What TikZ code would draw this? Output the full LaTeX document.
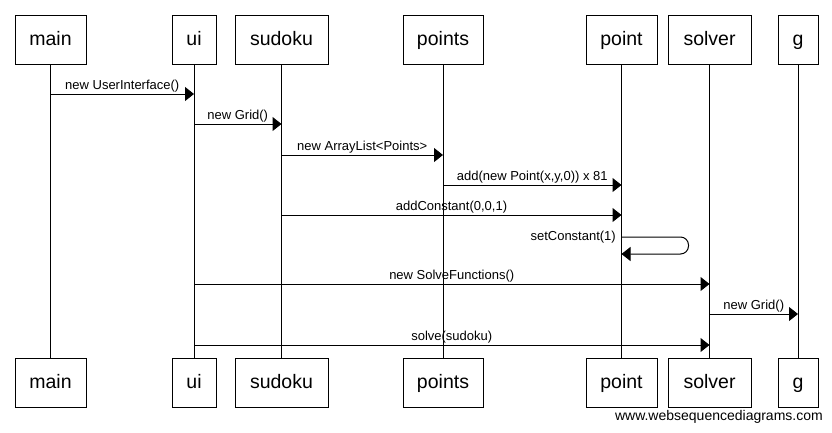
\documentclass[tikz,border=0pt]{standalone}
\usepackage{fontspec}
\setmainfont{Liberation Sans}
\usetikzlibrary{arrows.meta}

\tikzset{
  actor/.style={draw, line width=1pt, minimum height=49pt, inner sep=0pt,
    text height=15pt, text depth=4pt, font=\fontsize{19.5}{22}\selectfont},
  lifeline/.style={line width=1pt},
  msg/.style={line width=1pt, -{Triangle[length=9pt,width=14pt]}},
  msglabel/.style={font=\fontsize{13}{15}\selectfont, inner sep=1.5pt}
}

\begin{document}
\begin{tikzpicture}[x=1pt,y=-1pt]
  \useasboundingbox (0,0) rectangle (832,432);
  % participants, top row
  \node[actor,minimum width=71pt] (main) at (50.5,39.5) {main};
  \node[actor,minimum width=44pt] (ui) at (194,39.5) {ui};
  \node[actor,minimum width=93pt] (sudoku) at (281.5,39.5) {sudoku};
  \node[actor,minimum width=80pt] (points) at (443,39.5) {points};
  \node[actor,minimum width=71pt] (point) at (621.5,39.5) {point};
  \node[actor,minimum width=83pt] (solver) at (709.5,39.5) {solver};
  \node[actor,minimum width=40pt] (g) at (798,39.5) {g};
  % participants, bottom row
  \node[actor,minimum width=71pt] (main-b) at (50.5,382.5) {main};
  \node[actor,minimum width=44pt] (ui-b) at (194,382.5) {ui};
  \node[actor,minimum width=93pt] (sudoku-b) at (281.5,382.5) {sudoku};
  \node[actor,minimum width=80pt] (points-b) at (443,382.5) {points};
  \node[actor,minimum width=71pt] (point-b) at (621.5,382.5) {point};
  \node[actor,minimum width=83pt] (solver-b) at (709.5,382.5) {solver};
  \node[actor,minimum width=40pt] (g-b) at (798,382.5) {g};
  % lifelines
  \foreach \p in {main,ui,sudoku,points,point,solver,g}
    \draw[lifeline] (\p) -- (\p-b);
  % message ends
  \coordinate (m1a) at (main |- 0,94);
  \coordinate (m1b) at (ui |- 0,94);
  \coordinate (m2a) at (ui |- 0,124);
  \coordinate (m2b) at (sudoku |- 0,124);
  \coordinate (m3a) at (sudoku |- 0,155);
  \coordinate (m3b) at (points |- 0,155);
  \coordinate (m4a) at (points |- 0,185);
  \coordinate (m4b) at (point |- 0,185);
  \coordinate (m5a) at (sudoku |- 0,215);
  \coordinate (m5b) at (point |- 0,215);
  \coordinate (m6a) at (point |- 0,237);
  \coordinate (m6b) at (point |- 0,254);
  \coordinate (m7a) at (ui |- 0,284);
  \coordinate (m7b) at (solver |- 0,284);
  \coordinate (m8a) at (solver |- 0,314);
  \coordinate (m8b) at (g |- 0,314);
  \coordinate (m9a) at (ui |- 0,345);
  \coordinate (m9b) at (solver |- 0,345);
  % messages
  \draw[msg] (m1a) -- node[msglabel,above] {new UserInterface()} (m1b);
  \draw[msg] (m2a) -- node[msglabel,above] {new Grid()} (m2b);
  \draw[msg] (m3a) -- node[msglabel,above] {new ArrayList<Points>} (m3b);
  \draw[msg] (m4a) -- node[msglabel,above] {add(new Point(x,y,0)) x 81} (m4b);
  \draw[msg] (m5a) -- node[msglabel,above] {addConstant(0,0,1)} (m5b);
  \draw[msg,rounded corners=8pt] (m6a) -- ++(67,0) |- (m6b);
  \node[msglabel,anchor=east] (m6l) at ([xshift=-4pt]m6a) {setConstant(1)};
  \draw[msg] (m7a) -- node[msglabel,above] {new SolveFunctions()} (m7b);
  \draw[msg] (m8a) -- node[msglabel,above] {new Grid()} (m8b);
  \draw[msg] (m9a) -- node[msglabel,above] {solve(sudoku)} (m9b);
  \node[anchor=east,inner sep=0pt,font=\fontsize{14}{16}\selectfont] (site) at (823,417) {www.websequencediagrams.com};
\end{tikzpicture}
\end{document}
